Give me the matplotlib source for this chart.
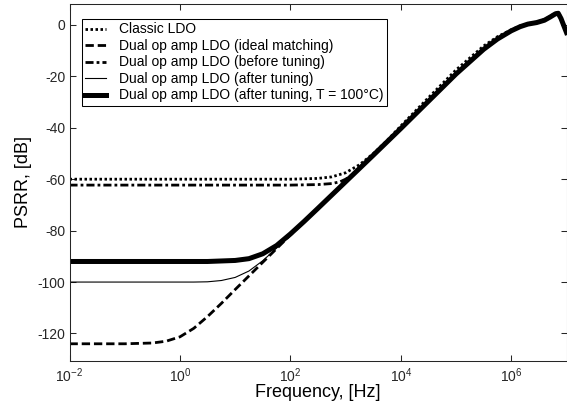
import numpy as np
import matplotlib
matplotlib.use("Agg")
import matplotlib.pyplot as plt

plt.rcParams["font.family"] = ["Liberation Sans", "DejaVu Sans"]
plt.rcParams["mathtext.fontset"] = "custom"
plt.rcParams["mathtext.rm"] = "Liberation Sans"
plt.rcParams["mathtext.it"] = "Liberation Sans"
plt.rcParams["axes.unicode_minus"] = False

# frequency points as decade exponents (log10 Hz), PSRR in dB
classic_dec = [-2, 2.0, 2.5, 2.75, 3.0, 3.25, 3.5, 3.75, 4.0, 4.5, 5.0, 5.5,
               5.75, 6.0, 6.16, 6.3, 6.46, 6.6, 6.7, 6.8, 6.85, 6.9, 7.0]
classic_db = [-60, -60, -59.7, -59.1, -57.5, -54.4, -50.1, -45.0, -39.3, -28.3,
              -17.5, -8.2, -4.6, -1.9, -0.4, 0.5, 1.1, 2.1, 3.3, 4.6, 4.9, 3.0, -2.5]

ideal_dec = [-2, -1, -0.5, -0.25, 0, 0.25, 0.5, 0.75, 1.0, 1.5, 2.0, 2.5, 3.0,
             3.5, 4.0, 4.5, 5.0, 5.5, 5.75, 6.0, 6.16, 6.3, 6.46, 6.6, 6.7,
             6.8, 6.85, 6.9, 7.0]
ideal_db = [-124, -124, -123.7, -123.0, -121.3, -118.0, -113.4, -108.3, -102.9,
            -92.3, -81.7, -71.3, -61.0, -50.7, -40.3, -29.7, -19.1, -9.5, -5.5,
            -2.3, -0.7, 0.3, 0.9, 1.8, 3.0, 4.3, 4.5, 2.5, -3.0]

before_dec = [-2, 2.0, 2.5, 2.75, 2.9, 3.0, 3.1, 3.25, 3.5, 4.0, 4.5, 5.0, 5.5,
              5.75, 6.0, 6.16, 6.3, 6.46, 6.6, 6.7, 6.8, 6.85, 6.9, 7.0]
before_db = [-62.3, -62.3, -62.1, -61.7, -61.0, -60.0, -58.6, -55.7, -50.7,
             -40.3, -29.7, -19.1, -9.5, -5.5, -2.3, -0.7, 0.3, 0.9, 1.8, 3.0,
             4.3, 4.5, 2.5, -3.0]

after_dec = [-2, 0.25, 0.5, 0.75, 1.0, 1.25, 1.5, 1.75, 2.0, 2.25, 2.5, 3.0,
             3.5, 4.0, 4.5, 5.0, 5.5, 5.75, 6.0, 6.16, 6.3, 6.46, 6.6, 6.7,
             6.8, 6.85, 6.9, 7.0]
after_db = [-100, -100, -99.9, -99.4, -98.2, -95.7, -91.7, -86.8, -81.6, -76.4,
            -71.3, -61.0, -50.7, -40.3, -29.7, -19.1, -9.5, -5.5, -2.3, -0.7,
            0.3, 0.9, 1.8, 3.0, 4.3, 4.5, 2.5, -3.0]

hot_dec = [-2, 0.5, 1.0, 1.25, 1.5, 1.75, 2.0, 2.25, 2.5, 3.0, 3.5, 4.0, 4.5,
           5.0, 5.5, 5.75, 6.0, 6.16, 6.3, 6.46, 6.6, 6.7, 6.8, 6.85, 6.9, 7.0]
hot_db = [-92, -92, -91.6, -90.9, -89.0, -85.8, -81.3, -76.4, -71.3, -61.0,
          -50.7, -40.3, -29.7, -19.1, -9.5, -5.5, -2.3, -0.7, 0.3, 0.9, 1.8,
          3.0, 4.3, 4.5, 2.5, -3.0]

labels = [
    "Classic LDO",
    "Dual op amp LDO (ideal matching)",
    "Dual op amp LDO (before tuning)",
    "Dual op amp LDO (after tuning)",
    "Dual op amp LDO (after tuning, T = 100°C)",
]

xticks = [1e-2, 1e0, 1e2, 1e4, 1e6]
xtick_labels = [r"$10^{-2}$", r"$10^{0}$", r"$10^{2}$", r"$10^{4}$", r"$10^{6}$"]
yticks = [-120, -100, -80, -60, -40, -20, 0]

fig = plt.figure(figsize=(5.67, 4.08), dpi=100)
ax = fig.add_axes([69.5 / 567, 47.5 / 408, 497 / 567, 356.2 / 408])

series = [
    (classic_dec, classic_db, dict(lw=2.0, dashes=(0.9, 0.9))),
    (ideal_dec, ideal_db, dict(lw=2.0, dashes=(3.0, 1.4))),
    (before_dec, before_db, dict(lw=2.0, dashes=(2.9, 1.1, 1.0, 1.1))),
    (after_dec, after_db, dict(lw=0.8)),
    (hot_dec, hot_db, dict(lw=3.6)),
]
for (dec, db, style), lab in zip(series, labels):
    ax.semilogx(10.0 ** np.array(dec), db, color="black",
                dash_capstyle="butt", label=lab, **style)

ax.set_xlim(1e-2, 1e7)
ax.set_ylim(-130.5, 8)
ax.set_xticks(xticks)
ax.set_xticklabels(xtick_labels)
ax.xaxis.set_minor_locator(matplotlib.ticker.NullLocator())
ax.set_yticks(yticks)

ax.tick_params(direction="in", length=4, width=0.75, top=True, right=True,
               labelsize=10, colors="#262626")
ax.tick_params(axis="x", pad=4.5)
ax.tick_params(axis="y", pad=3)
for sp in ax.spines.values():
    sp.set_linewidth(0.75)
    sp.set_color("#262626")

ax.set_xlabel("Frequency, [Hz]", fontsize=13, labelpad=-1)
ax.set_ylabel("PSRR, [dB]", fontsize=13, labelpad=4)

leg = ax.legend(loc="upper left", bbox_to_anchor=(0.0245, 0.9587),
                borderaxespad=0, fontsize=10, handlelength=1.5,
                handletextpad=0.95, labelspacing=0.18, borderpad=0.25,
                fancybox=False, framealpha=1, edgecolor="black")
leg.get_frame().set_linewidth(0.75)

fig.savefig("out.png", dpi=100)
